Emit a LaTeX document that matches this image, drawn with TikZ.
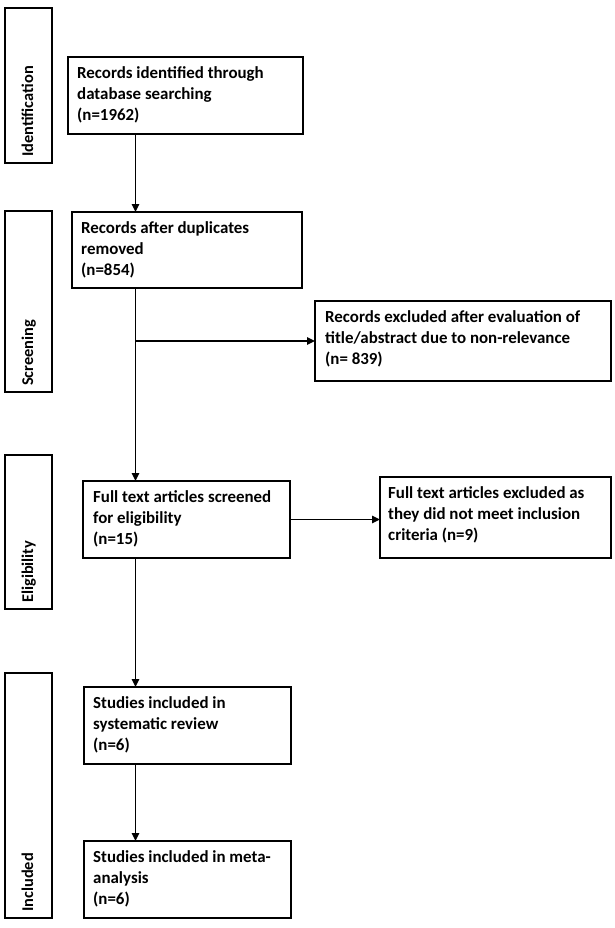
\documentclass[tikz,border=0pt]{standalone}
\usepackage{fontspec}
\setmainfont{Carlito}
\usetikzlibrary{arrows.meta}
\tikzset{
  box/.style={draw=black, line width=1.6pt, inner sep=0pt, outer sep=0pt, fill=white},
  txt/.style={anchor=north west, inner sep=0pt, align=left, font=\fontsize{16.9}{21}\selectfont\bfseries},
  stage/.style={anchor=base west, rotate=90, inner sep=0pt, font=\fontsize{16.4}{21}\selectfont\bfseries},
  arr/.style={line width=1.4pt, -{Triangle[length=8pt,width=7.5pt]}},
  ln/.style={line width=1.4pt}
}
\begin{document}
\begin{tikzpicture}[x=1pt,y=-1pt]
\useasboundingbox (0,0) rectangle (614,928);
% stage boxes
\node[box, minimum width=47pt, minimum height=155pt] (idn) at (28.5,85.5) {};
\node[box, minimum width=47pt, minimum height=181pt] (scr) at (28.5,301.5) {};
\node[box, minimum width=47pt, minimum height=154pt] (eli) at (28.5,532) {};
\node[box, minimum width=47pt, minimum height=245pt] (inc) at (28.5,795.5) {};
\node[stage] (lidn) at (33,157) {Identification};
\node[stage] (lscr) at (33,386) {Screening};
\node[stage] (leli) at (33,603) {Eligibility};
\node[stage] (linc) at (33,912) {Included};
% flow boxes
\node[box, minimum width=235pt, minimum height=77pt] (b1) at (185.5,95.5) {};
\node[box, minimum width=230pt, minimum height=76pt] (b2) at (187,250) {};
\node[box, minimum width=296pt, minimum height=80pt] (r1) at (463,341) {};
\node[box, minimum width=207pt, minimum height=77pt] (b3) at (186.5,519.5) {};
\node[box, minimum width=231pt, minimum height=81pt] (r2) at (495.5,517.5) {};
\node[box, minimum width=207pt, minimum height=77pt] (b4) at (187.5,725.5) {};
\node[box, minimum width=207pt, minimum height=77pt] (b5) at (187.5,879.5) {};
% texts
\node[txt] (t1) at ([shift={(9,9.5)}]b1.north west) {Records identified through\\database searching\\(n=1962)};
\node[txt] (t2) at ([shift={(9,9.5)}]b2.north west) {Records after duplicates\\removed\\(n=854)};
\node[txt] (t3) at ([shift={(10,9.5)}]r1.north west) {Records excluded after evaluation of\\title/abstract due to non-relevance\\(n= 839)};
\node[txt] (t4) at ([shift={(10,9.5)}]b3.north west) {Full text articles screened\\for eligibility\\(n=15)};
\node[txt] (t5) at ([shift={(8,9.5)}]r2.north west) {Full text articles excluded as\\they did not meet inclusion\\criteria (n=9)};
\node[txt] (t6) at ([shift={(9,9.5)}]b4.north west) {Studies included in\\systematic review\\(n=6)};
\node[txt] (t7) at ([shift={(9,9.5)}]b5.north west) {Studies included in meta-\\analysis\\(n=6)};
% connectors
\coordinate (sp) at (135.5,0);
\coordinate (j1) at (sp |- r1.west);
\draw[arr] (b1.south -| sp) -- (b2.north -| sp);
\draw[arr] (b2.south -| sp) -- (b3.north -| sp);
\draw[arr] (j1) -- (r1.west);
\draw[arr] (b3.east) -- (b3.east -| r2.west);
\draw[arr] (b3.south -| sp) -- (b4.north -| sp);
\draw[arr] (b4.south -| sp) -- (b5.north -| sp);
\end{tikzpicture}
\end{document}
